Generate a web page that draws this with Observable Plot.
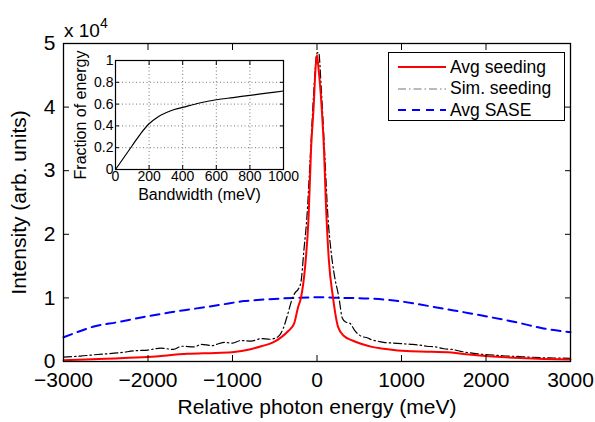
<!DOCTYPE html>
<html>
<head>
<meta charset="utf-8">
<script src="https://cdn.jsdelivr.net/npm/d3@7"></script>
<script src="https://cdn.jsdelivr.net/npm/@observablehq/plot@0.6"></script>
<style>
  body { margin: 0; background: #fff; font-family: "Liberation Sans", Arial, sans-serif; }
  #wrap { position: relative; width: 595px; height: 422px; overflow: hidden; }
  #main, #inset { position: absolute; }
  #main { left: 0; top: 0; }
  #inset { left: 60px; top: 50px; }
  #exp { position: absolute; left: 64px; top: 17px; font-size: 19px; color: #000; }
  #exp sup { font-size: 14px; position: relative; top: -2px; }
  #legend { position: absolute; left: 388px; top: 52px; width: 177px; height: 69px; border: 1.3px solid #000; background: #fff; box-sizing: border-box; }
  .row { position: absolute; left: 0; height: 20px; display: flex; align-items: center; font-size: 17.5px; }
  .row svg { margin-left: 9px; margin-right: 4px; }
</style>
</head>
<body>
<div id="wrap">
  <div id="main"></div>
  <div id="inset"></div>
  <div id="exp">x 10<sup>4</sup></div>
  <div id="legend"></div>
</div>
<script>
// Main spectra: relative photon energy (meV) and intensity (arb. units)
const seedX = [-3000,-2500,-2000,-1530,-1200,-980,-800,-660,-520,-425,-340,-270,-225,-190,-140,-100,-71,-40,-15,0,15,55,83,105,140,190,250,320,420,520,650,790,1110,1300,1590,1800,2080,2400,2680,3000];
const seedY = [200,450,700,1200,1350,1500,1900,2400,3000,3800,4800,6000,8500,10000,15000,22600,33200,40000,46500,48200,46500,40000,33200,25000,16000,10000,5400,4000,3300,2800,2300,2000,1600,1550,1400,1100,800,550,400,300];

const simX = [-3000,-2800,-2600,-2320,-2150,-2000,-1850,-1700,-1600,-1450,-1370,-1250,-1100,-1000,-900,-780,-660,-560,-460,-400,-345,-300,-260,-225,-190,-155,-120,-80,-40,0,20,50,90,130,165,200,260,300,340,390,450,520,600,650,720,790,900,1000,1110,1200,1300,1400,1500,1600,1700,1900,2100,2200,2350,2500,2650,2800,3000];
const simY = [700,850,1100,1400,1700,1800,2100,1900,2400,2300,2700,2500,3000,2900,3300,3200,3600,3500,3900,5200,7500,9600,10800,11300,12500,17500,22600,32000,42000,48500,48600,43000,33000,22600,17500,14000,10000,6800,6200,6000,4800,4000,3700,3400,3200,3000,2900,2800,2700,2600,2400,2300,2000,1900,1600,1200,1000,900,800,700,600,550,500];

const saseX = [-3000,-2800,-2640,-2350,-2050,-1750,-1450,-1150,-860,-560,-270,0,320,620,910,1200,1500,1800,2080,2380,2680,3000];
const saseY = [3800,4800,5500,6200,7000,7700,8300,8900,9500,9800,10000,10100,10000,9900,9600,9000,8300,7600,6900,6100,5200,4600];

// Inset: fraction of energy within bandwidth
const bwX = [0,25,50,100,150,200,250,300,350,400,500,600,700,800,900,1000];
const bwY = [0,0.055,0.11,0.22,0.33,0.42,0.48,0.52,0.55,0.57,0.61,0.64,0.66,0.68,0.70,0.72];

const seed = seedX.map((x,i)=>({x, y: seedY[i]}));
const sim = simX.map((x,i)=>({x, y: simY[i]}));
const sase = saseX.map((x,i)=>({x, y: saseY[i]}));
const bw = bwX.map((x,i)=>({x, y: bwY[i]}));

const xTicks = [-3000,-2000,-1000,0,1000,2000,3000];
const yTicks = [0,10000,20000,30000,40000,50000];
const insetXTicks = [0,200,400,600,800,1000];
const insetYTicks = [0,0.2,0.4,0.6,0.8,1];

const font = "Liberation Sans, Arial, sans-serif";

const main = Plot.plot({
  width: 595, height: 422,
  marginLeft: 63, marginRight: 25, marginTop: 43, marginBottom: 61,
  style: {fontFamily: font, fontSize: "21px", color: "#000", background: "transparent", overflow: "visible"},
  x: {domain: [-3000, 3000]},
  y: {domain: [0, 50000]},
  marks: [
    Plot.line(sase, {x: "x", y: "y", stroke: "#0000ff", strokeWidth: 2, strokeDasharray: "9,6", curve: "monotone-x"}),
    Plot.line(sim, {x: "x", y: "y", stroke: "#000", strokeWidth: 1.2, strokeDasharray: "8,3,1.5,3", curve: "monotone-x"}),
    Plot.line(seed, {x: "x", y: "y", stroke: "#ff0000", strokeWidth: 2, curve: "monotone-x"}),
    Plot.axisX({ticks: xTicks, tickSize: -6, tickPadding: 17, fontSize: 21, tickFormat: d => d < 0 ? "\u2212" + Math.abs(d) : String(d),
      label: "Relative photon energy (meV)", labelAnchor: "center", labelArrow: "none", labelOffset: 52}),
    Plot.axisX({anchor: "top", ticks: xTicks, tickSize: -6, tickFormat: () => "", label: null}),
    Plot.axisY({ticks: yTicks, tickSize: -6, tickPadding: 14, fontSize: 21, tickFormat: d => String(d / 10000),
      label: "Intensity (arb. units)", labelAnchor: "center", labelArrow: "none", labelOffset: 52}),
    Plot.axisY({anchor: "right", ticks: yTicks, tickSize: -6, tickFormat: () => "", label: null}),
    Plot.frame({stroke: "#000", strokeWidth: 1.3})
  ]
});
document.getElementById("main").appendChild(main);

const inset = Plot.plot({
  width: 235, height: 150,
  marginLeft: 55, marginRight: 12, marginTop: 10, marginBottom: 31,
  style: {fontFamily: font, fontSize: "14px", color: "#000", background: "transparent", overflow: "visible"},
  x: {domain: [0, 1000]},
  y: {domain: [0, 1]},
  marks: [
    Plot.frame({fill: "#fff", stroke: "none"}),
    Plot.gridX({ticks: [200,400,600,800], stroke: "#777", strokeOpacity: 1, strokeDasharray: "1,2.5"}),
    Plot.gridY({ticks: [0.2,0.4,0.6,0.8], stroke: "#777", strokeOpacity: 1, strokeDasharray: "1,2.5"}),
    Plot.line(bw, {x: "x", y: "y", stroke: "#000", strokeWidth: 1.2, curve: "monotone-x"}),
    Plot.axisX({ticks: insetXTicks, tickSize: -4, tickPadding: 6, fontSize: 14, tickFormat: d => String(d),
      label: "Bandwidth (meV)", labelAnchor: "center", labelArrow: "none", labelOffset: 30}),
    Plot.axisX({anchor: "top", ticks: insetXTicks, tickSize: -4, tickFormat: () => "", label: null}),
    Plot.axisY({ticks: insetYTicks, tickSize: -4, tickPadding: 6, fontSize: 14,
      tickFormat: d => String(Math.round(d*10)/10),
      label: "Fraction of energy", labelAnchor: "center", labelArrow: "none", labelOffset: 41}),
    Plot.axisY({anchor: "right", ticks: insetYTicks, tickSize: -4, tickFormat: () => "", label: null}),
    Plot.frame({stroke: "#000", strokeWidth: 1.2})
  ]
});
document.getElementById("inset").appendChild(inset);
inset.querySelectorAll("g[aria-label='x-axis label'], g[aria-label='y-axis label']").forEach(g => {
  g.setAttribute("font-size", "16");
  g.querySelectorAll("text").forEach(t => t.setAttribute("font-size", "16"));
});

// Legend
const legendItems = [
  {name: "Avg seeding", stroke: "#ff0000", width: 2, dash: null},
  {name: "Sim. seeding", stroke: "#777", width: 1.2, dash: "8,3,1.5,3"},
  {name: "Avg SASE", stroke: "#0000ff", width: 2, dash: "8,6"}
];
const leg = document.getElementById("legend");
legendItems.forEach((d, i) => {
  const row = document.createElement("div");
  row.className = "row";
  row.style.top = (4 + i * 21.5) + "px";
  row.innerHTML = `<svg width="48" height="10"><line x1="0" y1="5" x2="48" y2="5" stroke="${d.stroke}" stroke-width="${d.width}" ${d.dash ? `stroke-dasharray="${d.dash}"` : ""}/></svg><span>${d.name}</span>`;
  leg.appendChild(row);
});
</script>
</body>
</html>
